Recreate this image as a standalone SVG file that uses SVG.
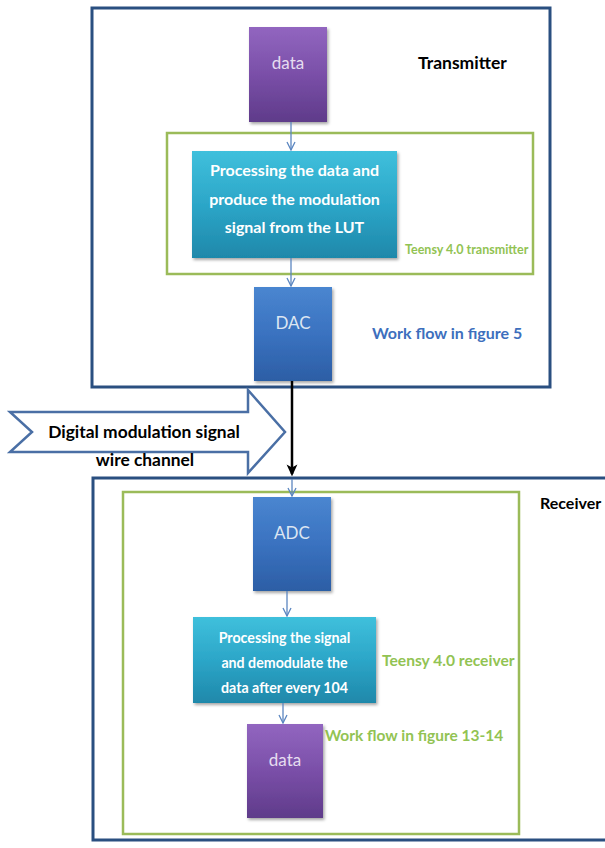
<svg xmlns="http://www.w3.org/2000/svg" width="605" height="848" viewBox="0 0 605 848">
<defs>
<linearGradient id="gPurple" x1="0" y1="0" x2="0" y2="1"><stop offset="0" stop-color="#9266c0"/><stop offset="0.5" stop-color="#7a4fa8"/><stop offset="1" stop-color="#5f3b8a"/></linearGradient>
<linearGradient id="gBlue" x1="0" y1="0" x2="0" y2="1"><stop offset="0" stop-color="#4a86d0"/><stop offset="0.5" stop-color="#3a72c0"/><stop offset="1" stop-color="#2c5ea5"/></linearGradient>
<linearGradient id="gCyan" x1="0" y1="0" x2="0" y2="1"><stop offset="0" stop-color="#3fc0dc"/><stop offset="0.5" stop-color="#2ca6c8"/><stop offset="1" stop-color="#1f88aa"/></linearGradient>
<filter id="sh" x="-10%" y="-10%" width="130%" height="130%"><feDropShadow dx="1.5" dy="2" stdDeviation="1.5" flood-color="#000" flood-opacity="0.35"/></filter>
<marker id="vArr" viewBox="0 0 10 10" refX="9" refY="5" markerWidth="10" markerHeight="10" markerUnits="userSpaceOnUse" orient="auto"><path d="M1,1 L9,5 L1,9" fill="none" stroke="#5b86c0" stroke-width="1.3"/></marker>
<marker id="bArr" viewBox="0 0 10 10" refX="8" refY="5" markerWidth="12" markerHeight="12" markerUnits="userSpaceOnUse" orient="auto"><path d="M0,0.5 L10,5 L0,9.5 L2.5,5 Z" fill="#000"/></marker>
</defs>
<style>
.outer{fill:none;stroke:#2a4f80;stroke-width:3}
.green{fill:none;stroke:#9bbb59;stroke-width:2.5}
.box{filter:url(#sh)}
.wt{font-family:Lato,"Open Sans",sans-serif;font-weight:bold;fill:#ffffff;text-anchor:middle}
.lt{font-family:Lato,"Open Sans",sans-serif;fill:#e6ddf0;text-anchor:middle;font-size:17px}
.lbl{font-family:Lato,"Open Sans",sans-serif;font-weight:bold;font-size:16px}
.conn{stroke:#5b86c0;stroke-width:1.3;fill:none;marker-end:url(#vArr)}
</style>

<g id="transmitter">
<rect class="outer" x="92" y="8" width="458" height="379"/>
<text class="lbl" x="418" y="69" fill="#000" style="font-size:17.5px">Transmitter</text>
<text class="lbl" x="372" y="339" fill="#3d6fbd">Work flow in figure 5</text>
</g>
<g id="teensy-tx">
<rect class="green" x="167" y="133" width="366" height="141"/>
<text class="lbl" x="405" y="254" fill="#92c353" style="font-size:12.5px">Teensy 4.0 transmitter</text>
</g>
<g id="data-tx">
<rect class="box" x="249" y="27" width="78" height="95" fill="url(#gPurple)"/>
<text class="lt" x="288" y="69">data</text>
</g>
<g id="process-tx">
<rect class="box" x="192" y="151" width="205" height="107" fill="url(#gCyan)"/>
<text class="wt" font-size="16" x="294.5" y="176">Processing the data and</text>
<text class="wt" font-size="16" x="294.5" y="205">produce the modulation</text>
<text class="wt" font-size="16" x="294.5" y="233">signal from the LUT</text>
</g>
<g id="dac">
<rect class="box" x="254" y="287" width="78" height="94" fill="url(#gBlue)"/>
<text class="lt" x="293" y="329" style="fill:#dce6f2">DAC</text>
</g>

<g id="channel">
<path d="M10,412 L248,412 L248,390 L285,432 L248,473 L248,452 L10,452 L32,432 Z" fill="#ffffff" stroke="#4a6fa5" stroke-width="2.5" stroke-linejoin="miter"/>
<text class="lbl" x="144" y="438" text-anchor="middle" fill="#000" style="font-size:17.4px">Digital modulation signal</text>
<text class="lbl" x="145" y="466" text-anchor="middle" fill="#000" style="font-size:17.4px">wire channel</text>
</g>

<g id="receiver">
<path class="outer" d="M607,478 L93,478 L93,840 L607,840"/>
<text class="lbl" x="540" y="509" fill="#000">Receiver</text>
</g>
<g id="teensy-rx">
<rect class="green" x="123" y="492" width="396" height="342"/>
<text class="lbl" x="382" y="666" fill="#92c353" style="font-size:15.6px">Teensy 4.0 receiver</text>
<text class="lbl" x="325" y="741" fill="#92c353" style="font-size:15.5px">Work flow in figure 13-14</text>
</g>
<g id="adc">
<rect class="box" x="253" y="497" width="78" height="94" fill="url(#gBlue)"/>
<text class="lt" x="292" y="539" style="fill:#dce6f2">ADC</text>
</g>
<g id="process-rx">
<rect class="box" x="193" y="617" width="183" height="86" fill="url(#gCyan)"/>
<text class="wt" font-size="14.2" x="284.5" y="643">Processing the signal</text>
<text class="wt" font-size="14.2" x="284.5" y="668">and demodulate the</text>
<text class="wt" font-size="14.2" x="284.5" y="693">data after every 104</text>
</g>
<g id="data-rx">
<rect class="box" x="247" y="724" width="76" height="94" fill="url(#gPurple)"/>
<text class="lt" x="285" y="766">data</text>
</g>

<g id="connectors">
<line class="conn" x1="291" y1="122" x2="291" y2="150"/>
<line class="conn" x1="291" y1="258" x2="291" y2="286"/>
<line x1="292" y1="381" x2="292" y2="474" stroke="#000" stroke-width="2.5" marker-end="url(#bArr)"/>
<line class="conn" x1="292" y1="479" x2="292" y2="496"/>
<line class="conn" x1="287" y1="591" x2="287" y2="616"/>
<line class="conn" x1="283" y1="703" x2="283" y2="723"/>
</g>
</svg>
